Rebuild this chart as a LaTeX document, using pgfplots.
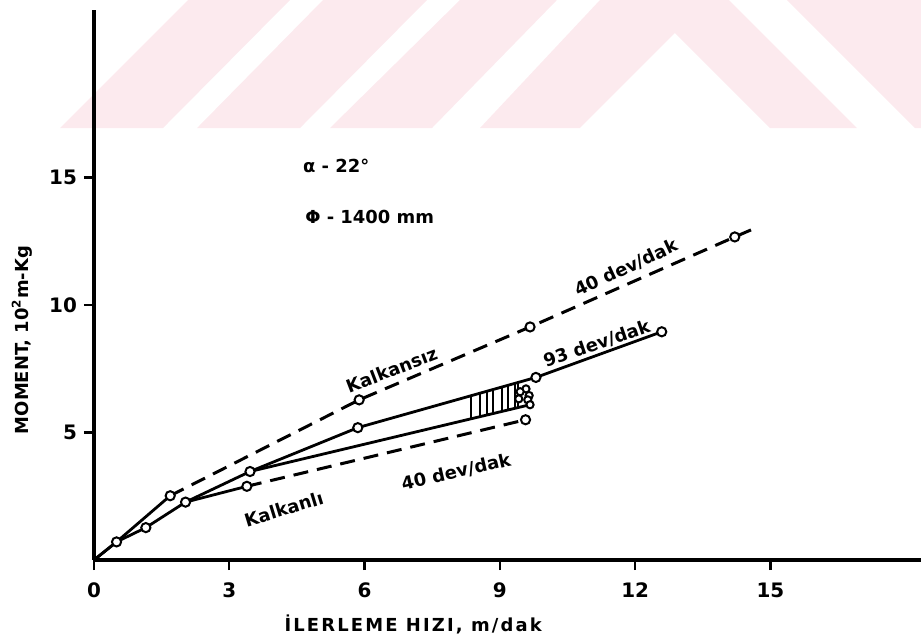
\documentclass[border=0pt]{standalone}
\usepackage{fontspec}
\setmainfont{DejaVu Sans}
\usepackage{pgfplots}
\pgfplotsset{compat=1.18}
\definecolor{wm}{RGB}{252,234,238}
\newcommand{\lf}{\fontsize{9}{11}\selectfont\bfseries}
\pgfplotsset{
  pts/.style={only marks, mark=*, mark size=2.3bp,
    mark options={fill=white, draw=black, line width=1bp, solid}},
  sol/.style={black, line width=1.4bp, no marks},
  dsh/.style={black, line width=1.5bp, no marks, dash pattern=on 7.5bp off 4.5bp},
  wmk/.style={fill=wm, draw=none, no marks, forget plot},
}
\begin{document}
\begin{tikzpicture}
\path[use as bounding box] (-47bp,-41bp) rectangle (413.5bp,280bp);
\begin{axis}[
  at={(0,0)}, anchor=south west,
  scale only axis,
  width=413.5bp, height=275bp,
  xmin=0, xmax=18.34, ymin=0, ymax=21.57,
  axis lines=left,
  axis on top,
  axis line style={-, line width=2bp},
  tick align=outside,
  xtick={0,3,6,9,12,15},
  ytick={5,10,15},
  major tick length=5bp,
  tick style={line width=1.2bp, black},
  /pgf/number format/assume math mode=true,
  ticklabel style={font=\fontsize{10}{12}\selectfont\bfseries},
  xticklabel style={yshift=-3bp},
  label style={font=\lf},
  xlabel={\addfontfeature{LetterSpace=12}İLERLEME HIZI, m/dak},
  ylabel={MOMENT, 10\textsuperscript{2}m-Kg},
  x label style={at={(axis description cs:0.386,-0.118)}, anchor=center},
  y label style={at={(axis description cs:-0.087,0.4)}, anchor=center},
  clip=false,
]
% faint watermark bands at the top of the page
\addplot[wmk] coordinates {(-0.754,16.94) (1.530,16.94) (4.346,21.96) (2.084,21.96)} --cycle;
\addplot[wmk] coordinates {(2.284,16.94) (4.568,16.94) (7.384,21.96) (5.078,21.96)} --cycle;
\addplot[wmk] coordinates {(5.233,16.94) (7.495,16.94) (10.266,21.96) (8.115,21.96)} --cycle;
\addplot[wmk] coordinates {(8.559,16.94) (11.220,21.96) (14.080,21.96) (16.918,16.94) (14.989,16.94) (12.882,20.67) (10.776,16.94)} --cycle;
\addplot[wmk] coordinates {(15.366,21.96) (18.337,21.96) (18.337,16.94) (18.204,16.94)} --cycle;
% early common segments
\addplot[sol] coordinates {(0,0) (0.50,0.71) (1.69,2.52)};
\addplot[sol] coordinates {(0,0) (0.50,0.71) (1.15,1.27) (2.03,2.27) (3.46,3.47) (5.85,5.19) (9.80,7.16) (12.59,8.95)};
\addplot[sol] coordinates {(2.03,2.27) (3.39,2.89)};
\addplot[sol] coordinates {(3.46,3.47) (9.67,6.09)};
% dashed curves (40 dev/dak)
\addplot[dsh] coordinates {(1.69,2.52) (5.88,6.28) (9.67,9.14) (14.21,12.67) (14.72,13.06)};
\addplot[dsh] coordinates {(3.39,2.89) (9.57,5.50)};
% hatching between the two solid curves
\addplot[black, line width=1bp, unbounded coords=jump] coordinates {
 (8.37,6.45) (8.37,5.54) (nan,nan)
 (8.56,6.54) (8.56,5.62) (nan,nan)
 (8.71,6.62) (8.71,5.69) (nan,nan)
 (8.85,6.69) (8.85,5.74) (nan,nan)
 (9.04,6.78) (9.04,5.82) (nan,nan)
 (9.18,6.85) (9.18,5.88) (nan,nan)
 (9.33,6.93) (9.33,5.95) (nan,nan)
 (9.41,6.97) (9.41,5.98) (nan,nan)
};
% measured points
\addplot[pts] coordinates {
 (0.50,0.71) (1.15,1.27) (1.69,2.52) (2.03,2.27) (3.39,2.89) (3.46,3.47)
 (5.88,6.28) (5.85,5.19) (9.67,9.14) (9.80,7.16) (12.59,8.95) (14.21,12.67)
 (9.57,5.50)
};
\addplot[pts, mark size=1.8bp] coordinates {
 (9.58,6.71) (9.45,6.60) (9.65,6.45) (9.42,6.32) (9.62,6.28) (9.67,6.09)
};
% annotations
\node[anchor=west, font=\lf] at (axis cs:4.48,15.45) {α - 22°};
\node[anchor=west, font=\lf] at (axis cs:4.53,13.46) {Φ - 1400 mm};
\node[rotate=21, font=\lf] at (axis cs:6.60,7.45) {Kalkansız};
\node[rotate=25, font=\lf] at (axis cs:11.80,11.45) {40 dev/dak};
\node[rotate=19, font=\lf] at (axis cs:11.15,8.48) {93 dev/dak};
\node[rotate=13, font=\lf] at (axis cs:8.03,3.45) {40 dev/dak};
\node[rotate=17, font=\lf] at (axis cs:4.21,2.00) {Kalkanlı};
\end{axis}
\end{tikzpicture}
\end{document}
